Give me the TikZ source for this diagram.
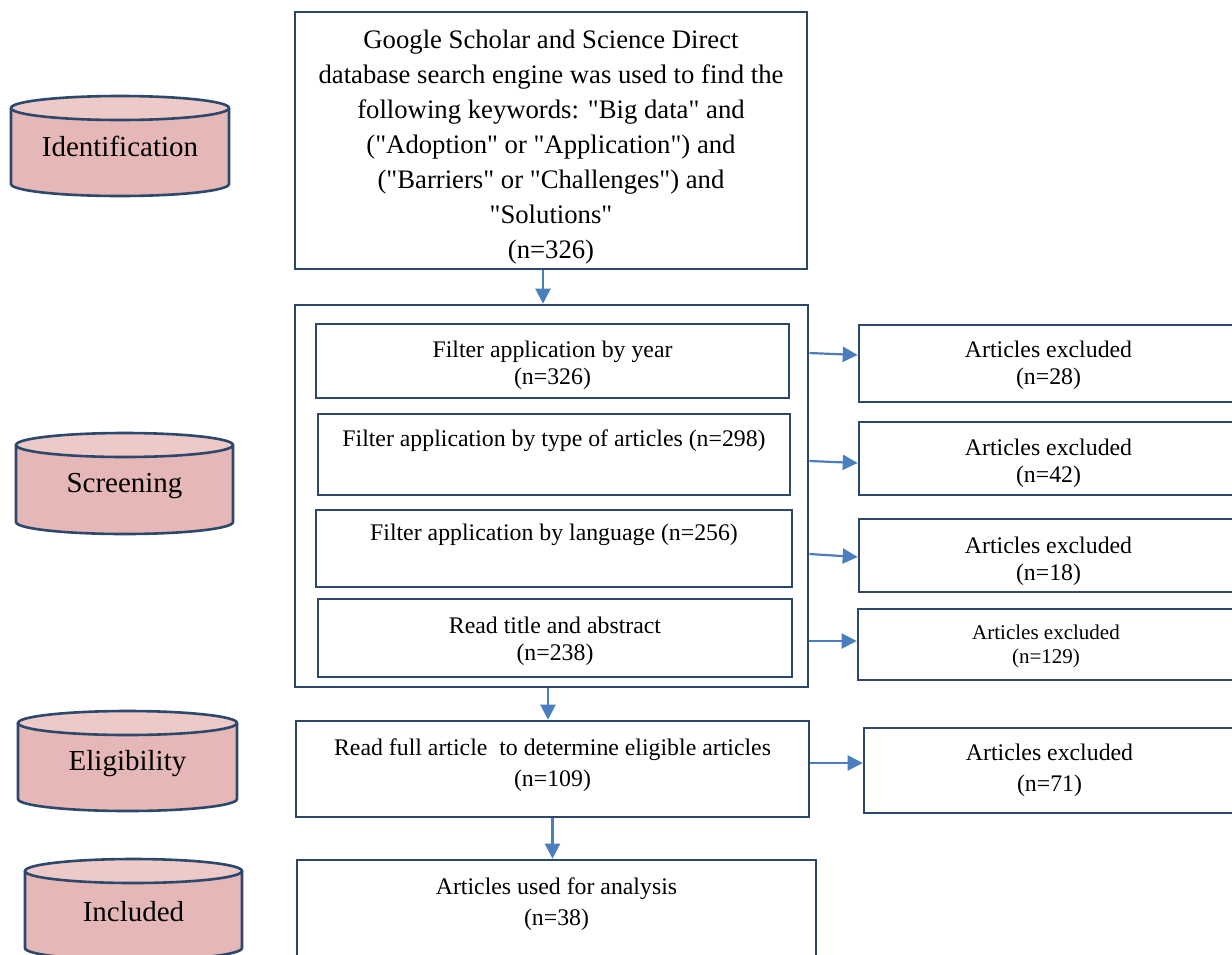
\documentclass[tikz,border=0pt]{standalone}
\usepackage{fontspec}
\setmainfont{Liberation Serif}[Ligatures=TeXOff]
\usetikzlibrary{arrows.meta}
\definecolor{boxline}{RGB}{44,72,108}
\definecolor{arrowblue}{RGB}{74,126,190}
\definecolor{cylpink}{RGB}{229,184,183}
\definecolor{cyllight}{RGB}{237,201,200}

\begin{document}
\begin{tikzpicture}[x=1pt, y=-1pt, box/.style={rectangle, draw=boxline, line width=2.6pt, align=center, inner sep=0pt}, big/.style={font=\fontsize{26.7}{35}\selectfont}, small/.style={font=\fontsize{23.8}{27}\selectfont}, wide/.style={font=\fontsize{23.8}{31}\selectfont}, tiny/.style={font=\fontsize{21}{24}\selectfont}, toptext/.style={text depth=33pt}, phase/.style={font=\fontsize{29}{33}\selectfont}, cyl/.style={fill=cylpink, draw=boxline, line width=2.6pt}, cyltop/.style={fill=cyllight, draw=boxline, line width=2.6pt}, arrow/.style={-{Triangle[length=15pt, width=15pt]}, draw=arrowblue, line width=2.2pt}]
	\useasboundingbox (0,0) rectangle (1232,954);
	\clip (0,0) rectangle (1232,954);

	\path [cyl] (11,108) -- (11,184) arc [start angle=180, end angle=0, x radius=109, y radius=12] -- (229,108);
	\draw [cyltop] (120,108) ellipse [x radius=109, y radius=12];
	\node (ident) [phase] at (120,146) {Identification};
	\path [cyl] (16,445) -- (16,522) arc [start angle=180, end angle=0, x radius=108.5, y radius=12] -- (233,445);
	\draw [cyltop] (124.5,445) ellipse [x radius=108.5, y radius=12];
	\node (scrn) [phase] at (124.5,486) {Screening};
	\path [cyl] (18,723) -- (18,799) arc [start angle=180, end angle=0, x radius=109.5, y radius=12] -- (237,723);
	\draw [cyltop] (127.5,723) ellipse [x radius=109.5, y radius=12];
	\node (elgb) [phase] at (127.5,764) {Eligibility};
	\path [cyl] (25,871) -- (25,948) arc [start angle=180, end angle=0, x radius=108.5, y radius=12] -- (242,871);
	\draw [cyltop] (133.5,871) ellipse [x radius=108.5, y radius=12];
	\node (incd) [phase] at (133.5,912) {Included};

	\node (search) [box, big, text height=241.2pt, minimum width=512pt, minimum height=257pt] at (551,140.5) {Google Scholar and Science Direct\\database search engine was used to find the\\following keywords: "Big data" and\\("Adoption" or "Application") and\\("Barriers" or "Challenges") and\\"Solutions"\\(n=326)};
	\node (screen) [box, minimum width=513pt, minimum height=382pt] at (551.5,496) {};
	\node (f1) [box, small, text height=51.3pt, minimum width=473pt, minimum height=74pt] at (552.5,361) {Filter application by year\\(n=326)};
	\node (f2) [box, small, toptext, minimum width=472pt, minimum height=81pt] at (554,454.5) {Filter application by type of articles (n=298)};
	\node (f3) [box, small, toptext, minimum width=476pt, minimum height=77pt] at (554,548.5) {Filter application by language (n=256)};
	\node (f4) [box, small, text height=49.3pt, minimum width=474pt, minimum height=78pt] at (555,638) {Read title and abstract\\(n=238)};
	\node (elig) [box, wide, text height=40.3pt, minimum width=513pt, minimum height=96pt] at (552.5,769) {Read full article~ to determine eligible articles\\(n=109)};
	\node (incl) [box, wide, text height=36.3pt, minimum width=519pt, minimum height=100pt] at (556.5,910) {Articles used for analysis\\(n=38)};

	\node (ex1) [box, small, text height=47.3pt, minimum width=379pt, minimum height=77pt] at (1048.5,363.5) {Articles excluded\\(n=28)};
	\node (ex2) [box, small, text height=52.3pt, minimum width=379pt, minimum height=73pt] at (1048.5,458.5) {Articles excluded\\(n=42)};
	\node (ex3) [box, small, text height=54.3pt, minimum width=379pt, minimum height=73pt] at (1048.5,555.5) {Articles excluded\\(n=18)};
	\node (ex4) [box, tiny, text height=42.5pt, minimum width=376pt, minimum height=71pt] at (1046,644.5) {Articles excluded\\(n=129)};
	\node (ex5) [box, wide, minimum width=371pt, minimum height=85pt] at (1049.5,770.5) {Articles excluded\\(n=71)};

	\draw [arrow] ([xshift=-8pt]search.south) -- ([xshift=-8pt]search.south |- screen.north);
	\draw [arrow] ([xshift=-3.5pt]screen.south) -- ([xshift=-3.5pt]screen.south |- elig.north);
	\draw [arrow] (elig.south) -- (elig.south |- incl.north);

	\draw [arrow] ([yshift=8pt]f1.east -| screen.east) -- ([yshift=8.5pt]ex1.west);
	\draw [arrow] ([yshift=-6.5pt]f2.east -| screen.east) -- ([yshift=-4.5pt]ex2.west);
	\draw [arrow] ([yshift=-5.5pt]f3.east -| screen.east) -- ([yshift=-1.5pt]ex3.west);
	\draw [arrow] ([yshift=-3pt]f4.east -| screen.east) -- ([yshift=3.5pt]ex4.west);
	\draw [arrow] ([yshift=6pt]elig.east) -- ([yshift=7.5pt]ex5.west);

\end{tikzpicture}
\end{document}
